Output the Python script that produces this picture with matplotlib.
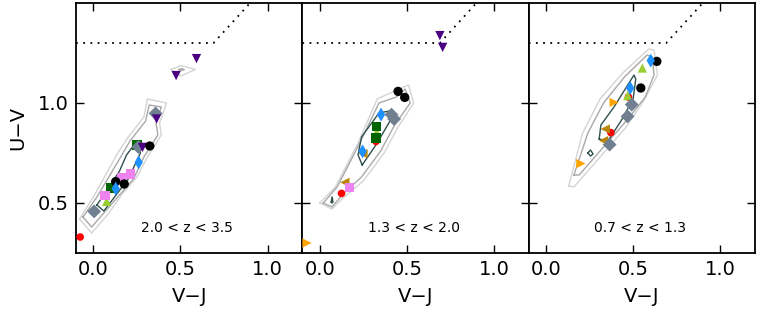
import matplotlib
matplotlib.use("Agg")
import matplotlib.pyplot as plt

# ---------------- data ----------------
x_ticks = [0.0, 0.5, 1.0]
y_ticks = [0.5, 1.0]
x_label = "V\u2212J"
y_label = "U\u2212V"
panel_labels = ["2.0 < z < 3.5", "1.3 < z < 2.0", "0.7 < z < 1.3"]

# quiescent selection boundary (V-J, U-V)
bound_x = [-0.1, 0.69, 0.90]
bound_y = [1.3, 1.3, 1.5]

# --- panel 1 : 2.0 < z < 3.5 ---
p1_red = [(-0.076, 0.33)]
p1_goldenrod = []
p1_orange = []
p1_yellowgreen = [(0.076, 0.508)]
p1_darkgreen = [(0.097, 0.575), (0.25, 0.79)]
p1_slategray = [(0.357, 0.948), (0.258, 0.78), (0.004, 0.458)]
p1_indigo = [(0.592, 1.222), (0.475, 1.137), (0.363, 0.92), (0.282, 0.778)]
p1_violet = [(0.212, 0.645), (0.162, 0.627), (0.067, 0.537)]
p1_black = [(0.324, 0.785), (0.177, 0.595), (0.128, 0.607)]
p1_blue = [(0.26, 0.703), (0.128, 0.572)]

p1_outer = [(-0.08, 0.42), (0.0, 0.53), (0.14, 0.75), (0.20, 0.83), (0.29, 0.93),
            (0.31, 1.02), (0.42, 1.00), (0.38, 0.90), (0.39, 0.84), (0.31, 0.73),
            (0.25, 0.63), (0.17, 0.55), (0.08, 0.44), (-0.01, 0.35), (-0.08, 0.42)]
p1_middle = [(-0.06, 0.43), (0.02, 0.53), (0.15, 0.72), (0.21, 0.81), (0.30, 0.91),
             (0.32, 0.99), (0.39, 0.98), (0.36, 0.90), (0.37, 0.84), (0.29, 0.73),
             (0.23, 0.62), (0.15, 0.54), (0.06, 0.45), (-0.01, 0.38), (-0.06, 0.43)]
p1_inner = [(0.02, 0.49), (0.06, 0.46), (0.13, 0.54), (0.20, 0.62), (0.27, 0.75),
            (0.25, 0.81), (0.19, 0.74), (0.15, 0.66), (0.09, 0.58), (0.02, 0.49)]
p1_island = [(0.446, 1.168), (0.504, 1.187), (0.586, 1.168), (0.504, 1.135), (0.446, 1.168)]
p1_island_core = [(0.49, 1.167), (0.506, 1.172), (0.522, 1.167), (0.506, 1.162), (0.49, 1.167)]

# --- panel 2 : 1.3 < z < 2.0 ---
p2_red = [(0.323, 0.808), (0.125, 0.548)]
p2_goldenrod = [(0.248, 0.747), (0.144, 0.603)]
p2_orange = [(-0.073, 0.30)]
p2_yellowgreen = [(0.327, 0.855)]
p2_darkgreen = [(0.327, 0.883), (0.323, 0.825)]
p2_slategray = [(0.412, 0.942), (0.427, 0.92)]
p2_indigo = [(0.69, 1.337), (0.706, 1.278)]
p2_violet = [(0.171, 0.578)]
p2_black = [(0.45, 1.058), (0.488, 1.028)]
p2_blue = [(0.352, 0.942), (0.246, 0.758)]

p2_outer = [(0.0, 0.50), (0.07, 0.47), (0.14, 0.53), (0.25, 0.61), (0.37, 0.75),
            (0.45, 0.88), (0.54, 1.0), (0.51, 1.09), (0.43, 1.06), (0.33, 1.02),
            (0.22, 0.80), (0.09, 0.58), (0.0, 0.50)]
p2_middle = [(0.02, 0.50), (0.07, 0.48), (0.14, 0.55), (0.24, 0.63), (0.35, 0.76),
             (0.43, 0.89), (0.52, 1.0), (0.49, 1.07), (0.44, 1.03), (0.34, 1.0),
             (0.23, 0.80), (0.10, 0.58), (0.02, 0.50)]
p2_inner = [(0.244, 0.69), (0.33, 0.80), (0.41, 0.92), (0.40, 0.96), (0.34, 0.95),
            (0.24, 0.83), (0.22, 0.74), (0.244, 0.69)]
p2_island = [(0.066, 0.505), (0.071, 0.53), (0.076, 0.505), (0.071, 0.50), (0.066, 0.505)]

# --- panel 3 : 0.7 < z < 1.3 ---
p3_red = [(0.473, 1.03), (0.372, 0.852)]
p3_goldenrod = [(0.34, 0.87), (0.33, 0.812)]
p3_orange = [(0.391, 1.003), (0.2, 0.697)]
p3_yellowgreen = [(0.553, 1.175), (0.469, 1.037)]
p3_darkgreen = []
p3_slategray = [(0.492, 0.992), (0.468, 0.933), (0.365, 0.792)]
p3_indigo = []
p3_violet = []
p3_black = [(0.636, 1.208), (0.544, 1.075)]
p3_blue = [(0.601, 1.212), (0.483, 1.075)]

p3_outer = [(0.13, 0.585), (0.16, 0.58), (0.29, 0.71), (0.46, 0.88), (0.56, 1.01),
            (0.64, 1.14), (0.62, 1.265), (0.59, 1.27), (0.44, 1.15), (0.31, 1.02),
            (0.21, 0.85), (0.13, 0.585)]
p3_middle = [(0.16, 0.64), (0.19, 0.64), (0.32, 0.77), (0.47, 0.92), (0.57, 1.03),
             (0.62, 1.14), (0.61, 1.23), (0.58, 1.24), (0.45, 1.13), (0.33, 1.0),
             (0.24, 0.85), (0.16, 0.64)]
p3_inner = [(0.305, 0.82), (0.315, 0.89), (0.39, 0.98), (0.505, 1.14), (0.515, 1.12),
            (0.50, 1.02), (0.43, 0.91), (0.355, 0.81), (0.305, 0.82)]
p3_island = [(0.24, 0.75), (0.255, 0.765), (0.27, 0.745), (0.255, 0.735), (0.24, 0.75)]

panels = [
    dict(red=p1_red, goldenrod=p1_goldenrod, orange=p1_orange, yellowgreen=p1_yellowgreen,
         darkgreen=p1_darkgreen, slategray=p1_slategray, indigo=p1_indigo, violet=p1_violet,
         black=p1_black, blue=p1_blue,
         outer=[p1_outer, p1_island], middle=[p1_middle, p1_island_core], inner=[p1_inner]),
    dict(red=p2_red, goldenrod=p2_goldenrod, orange=p2_orange, yellowgreen=p2_yellowgreen,
         darkgreen=p2_darkgreen, slategray=p2_slategray, indigo=p2_indigo, violet=p2_violet,
         black=p2_black, blue=p2_blue,
         outer=[p2_outer], middle=[p2_middle], inner=[p2_inner, p2_island]),
    dict(red=p3_red, goldenrod=p3_goldenrod, orange=p3_orange, yellowgreen=p3_yellowgreen,
         darkgreen=p3_darkgreen, slategray=p3_slategray, indigo=p3_indigo, violet=p3_violet,
         black=p3_black, blue=p3_blue,
         outer=[p3_outer], middle=[p3_middle], inner=[p3_inner, p3_island]),
]

# marker styles (drawing order)
styles = [
    ("red", dict(marker="o", color="red", s=30)),
    ("goldenrod", dict(marker="<", color="darkgoldenrod", s=45)),
    ("orange", dict(marker=">", color="orange", s=45)),
    ("yellowgreen", dict(marker="^", color="yellowgreen", s=45)),
    ("darkgreen", dict(marker="s", color="darkgreen", s=45)),
    ("slategray", dict(marker="D", color="slategray", s=50)),
    ("indigo", dict(marker="v", color="indigo", s=45)),
    ("violet", dict(marker="s", color="violet", s=45)),
    ("black", dict(marker="o", color="black", s=45)),
    ("blue", dict(marker="d", color="dodgerblue", s=50)),
]

# ---------------- figure ----------------
plt.rcParams["font.family"] = ["DejaVu Sans"]
fig = plt.figure(figsize=(7.61, 3.17), dpi=100)
left, right, top, bottom = 76 / 761, 755 / 761, 1 - 3 / 317, 1 - 253 / 317
w = (right - left) / 3
for i, pdata in enumerate(panels):
    ax = fig.add_axes([left + i * w, bottom, w, top - bottom])
    for poly in pdata["outer"]:
        ax.plot([p[0] for p in poly], [p[1] for p in poly], color="#d4d4d4", lw=1.0, zorder=1)
    for poly in pdata["middle"]:
        ax.plot([p[0] for p in poly], [p[1] for p in poly], color="#a8a8a8", lw=1.0, zorder=1)
    for poly in pdata["inner"]:
        ax.plot([p[0] for p in poly], [p[1] for p in poly], color="#2f4f4f", lw=1.0, zorder=1)
    ax.plot(bound_x, bound_y, color="black", lw=1.3, linestyle=(0, (1, 3)), zorder=2)
    z = 3
    for key, st in styles:
        pts = pdata[key]
        if pts:
            ax.scatter([p[0] for p in pts], [p[1] for p in pts], marker=st["marker"],
                       c=st["color"], s=st["s"], edgecolors="none", zorder=z)
        z += 0.1
    ax.text(0.54, 0.375, panel_labels[i], fontsize=10, ha="center", va="center")
    ax.set_xlim(-0.1, 1.2)
    ax.set_ylim(0.25, 1.5)
    ax.set_xticks(x_ticks)
    ax.set_yticks(y_ticks)
    ax.tick_params(direction="in", length=6, width=1, top=True, right=True,
                   labelsize=14, pad=5)
    for sp in ax.spines.values():
        sp.set_linewidth(1.3)
    ax.set_xlabel(x_label, fontsize=14, labelpad=6)
    if i == 0:
        ax.set_ylabel(y_label, fontsize=14, labelpad=8)
    else:
        ax.set_yticklabels([])

fig.savefig("out.png", dpi=100)
